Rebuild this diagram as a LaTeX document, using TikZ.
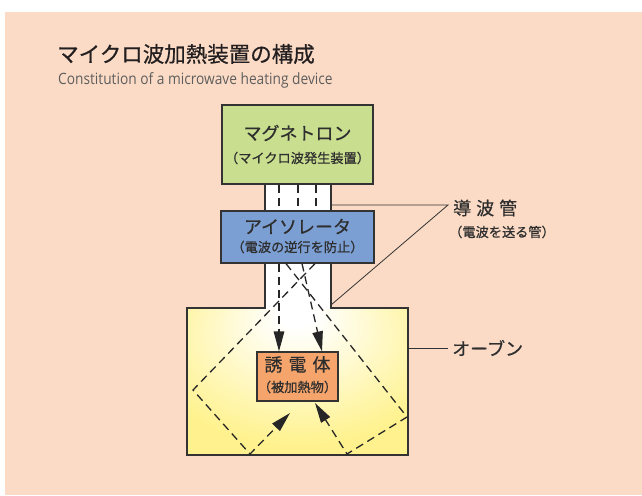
\documentclass[tikz,border=0pt]{standalone}
\usepackage{fontspec}
\setmainfont{Noto Sans CJK JP}
\newfontfamily\medfont[FakeBold=0.6]{Noto Sans CJK JP}
\newfontfamily\subfont[FakeStretch=0.88]{Open Sans}
\usetikzlibrary{arrows.meta}
\definecolor{peach}{HTML}{FBDBC5}
\definecolor{mgreen}{HTML}{C9DE8F}
\definecolor{iblue}{HTML}{7B9ED3}
\definecolor{dorange}{HTML}{F5A46B}
\definecolor{ovenyellow}{HTML}{FFF28E}
\definecolor{linecol}{HTML}{333333}
\definecolor{textcol}{HTML}{2E2E2E}
\definecolor{titlecol}{HTML}{231F20}
\definecolor{subgray}{HTML}{5E5E5E}
\pgfdeclareradialshading{ovenshade}{\pgfpoint{0bp}{24bp}}{color(0bp)=(white); color(4bp)=(white); color(34bp)=(ovenyellow); color(70bp)=(ovenyellow)}
\tikzset{
  edge/.style={draw=linecol, line width=1.2pt},
  box/.style={draw=linecol, line width=1.2pt, inner sep=0pt, rectangle},
  big/.style={inner sep=0pt, text=textcol, font=\medfont\fontsize{18}{20}\selectfont},
  small/.style={inner sep=0pt, text=textcol, font=\medfont\fontsize{13.2}{15}\selectfont},
  wave/.style={draw=black!85, line width=1.3pt, dash pattern=on 8pt off 5pt},
  tip/.style={-{Triangle[length=20pt,width=10.5pt]}},
  leader/.style={draw=linecol, line width=0.8pt}
}
\begin{document}
\begin{tikzpicture}[x=1pt,y=-1pt]
\useasboundingbox (0,0) rectangle (642,495);
\fill[white] (0,0) rectangle (642,495);
\fill[peach] (5,12) rectangle (642,495);

% title
\node[anchor=west, inner sep=0pt, text=titlecol, font=\medfont\fontsize{21.5}{24}\selectfont] (title) at (57,54) {マイクロ波加熱装置の構成};
\node[anchor=west, inner sep=0pt, text=subgray, font=\subfont\fontsize{15.6}{17}\selectfont] (sub) at (58,80) {Constitution of a microwave heating device};

% oven
\shade[shading=ovenshade] (187,308) rectangle (408,455);
\draw[edge] (265,308) -- (187,308) -- (187,455) -- (408,455) -- (408,308) -- (331,308);
\coordinate (ovenR) at (408,348);

% waveguide
\fill[white] (265,184) rectangle (331,308.6);
\draw[edge] (265,184) -- (265,308.6);
\draw[edge] (331,184) -- (331,308.6);
\coordinate (wgTop) at (331,205);
\coordinate (wgBot) at (331,305);

% boxes
\node[box, fill=mgreen, minimum width=151pt, minimum height=79pt] (mag) at (297.5,144.5) {};
\node[big] (magT) at (297.5,133) {マグネトロン};
\node[small] (magS) at (297.5,158) {（マイクロ波発生装置）};

\node[box, fill=iblue, minimum width=153pt, minimum height=52pt] (iso) at (297.5,237) {};
\node[big] (isoT) at (297.5,226.5) {アイソレータ};
\node[small] (isoS) at (297.5,247) {（電波の逆行を防止）};

\node[box, fill=dorange, minimum width=81pt, minimum height=49pt] (diel) at (297.5,376.5) {};
\node[big] (dielT) at (297.5,364.5) {誘\hspace{6pt}電\hspace{6pt}体};
\node[small] (dielS) at (297.5,387) {（被加熱物）};

% wave paths
\coordinate (w1) at (279,0);
\coordinate (w2) at (298,0);
\coordinate (w3) at (316,0);
\coordinate (s1) at (302,0);
\coordinate (s2) at (322,0);
\coordinate (a0) at (315,0);
\coordinate (b0) at (286,0);
\coordinate (a1) at (193,390);
\coordinate (a2) at (250,454);
\coordinate (a3) at (290,413);
\coordinate (b1) at (407,417);
\coordinate (b2) at (347,454);
\coordinate (b3) at (315,403);

\draw[wave] (mag.south -| w1) -- (iso.north -| w1);
\draw[wave] (mag.south -| w2) -- (iso.north -| w2);
\draw[wave] (mag.south -| w3) -- (iso.north -| w3);

\draw[wave, tip] (iso.south -| w1) -- (diel.north -| w1);
\draw[wave, tip] (iso.south -| s1) -- (diel.north -| s2);
\draw[wave, tip] (iso.south -| a0) -- (a1) -- (a2) -- (a3);
\draw[wave, tip] (iso.south -| b0) -- (b1) -- (b2) -- (b3);

% leaders and labels
\coordinate (wgJ) at (448,205);
\draw[leader] (wgTop) -- (wgJ) -- (wgBot);
\node[anchor=west, inner sep=0pt, big] (wgT) at (453,208) {導\hspace{5pt}波\hspace{5pt}管};
\node[anchor=west, inner sep=0pt, small] (wgS) at (449,232) {（電波を送る管）};

\coordinate (ovJ) at (448,348);
\draw[leader] (ovenR) -- (ovJ);
\node[anchor=west, inner sep=0pt, big] (ovT) at (452,348) {オーブン};
\end{tikzpicture}
\end{document}
